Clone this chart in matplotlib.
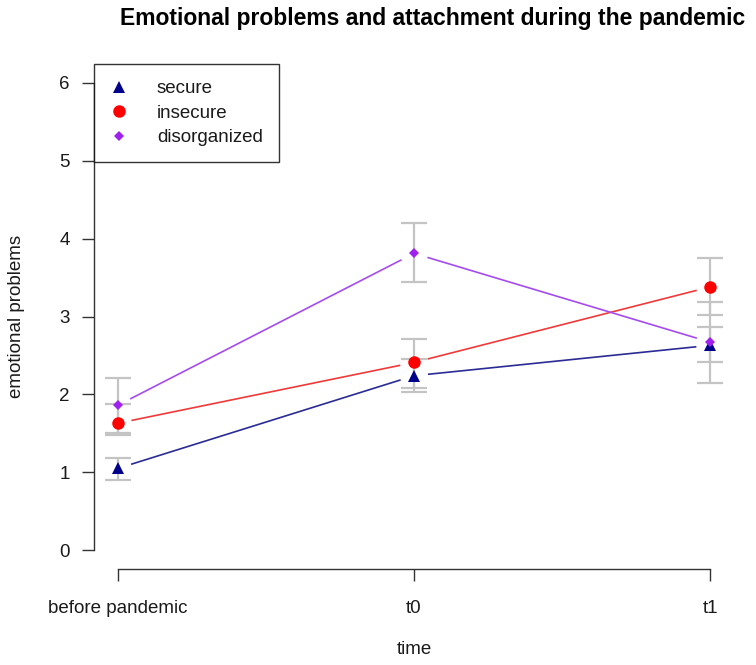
import numpy as np
import matplotlib
matplotlib.use("Agg")
import matplotlib.pyplot as plt
from matplotlib.lines import Line2D

plt.rcParams['font.family'] = ['Liberation Sans', 'DejaVu Sans']

# time points
time_labels = ["before pandemic", "t0", "t1"]
time_pos = [1, 2, 3]

# group means and interval ends
secure_mean = [1.05, 2.24, 2.63]
secure_low = [0.90, 2.03, 2.41]
secure_high = [1.18, 2.45, 2.86]

insecure_mean = [1.63, 2.41, 3.38]
insecure_low = [1.48, 2.08, 3.02]
insecure_high = [1.88, 2.71, 3.75]

disorg_mean = [1.86, 3.81, 2.67]
disorg_low = [1.51, 3.44, 2.15]
disorg_high = [2.21, 4.20, 3.18]

groups = ["secure", "insecure", "disorganized"]
W, H = 756, 665
FS = 13.5

fig = plt.figure(figsize=(W / 100, H / 100), dpi=100)
ax = fig.add_axes([94 / W, 1 - 569 / H, 640 / W, 505 / H])
ax.set_xlim(0.92, 3.08)
ax.set_ylim(-0.24, 6.24)

series = [
    (secure_mean, secure_low, secure_high, "^", 9, "#00008B", "#2B2B95"),
    (insecure_mean, insecure_low, insecure_high, "o", 9, "#FF0000", "#F03A3A"),
    (disorg_mean, disorg_low, disorg_high, "D", 5, "#A020F0", "#A64BF0"),
]

# error bars (under everything else)
for mean, low, high, *_ in series:
    mean = np.array(mean)
    err = [mean - np.array(low), np.array(high) - mean]
    ax.errorbar(time_pos, mean, yerr=err, fmt="none", ecolor="#C4C4C4",
                elinewidth=1.6, capsize=9.5, capthick=1.6, zorder=1)


def gap_lines(x, y, color, gap=14):
    # R type="b": segments stop short of the points
    pts = ax.transData.transform(np.column_stack([x, y]))
    for p0, p1 in zip(pts[:-1], pts[1:]):
        d = p1 - p0
        u = d / np.hypot(*d)
        a = ax.transData.inverted().transform([p0 + u * gap, p1 - u * gap])
        ax.plot(a[:, 0], a[:, 1], color=color, lw=1.2, zorder=2,
                solid_capstyle="butt")


for mean, low, high, mk, ms, mcol, lcol in series:
    gap_lines(time_pos, mean, lcol)
    ax.plot(time_pos, mean, linestyle="none", marker=mk, markersize=ms,
            color=mcol, markeredgewidth=0, zorder=3)

for s in ["top", "right"]:
    ax.spines[s].set_visible(False)
ax.spines["left"].set_bounds(0, 6)
ax.spines["bottom"].set_bounds(1, 3)
for s in ["left", "bottom"]:
    ax.spines[s].set_linewidth(1.0)
    ax.spines[s].set_color("#333333")

ax.set_yticks(range(0, 7))
ax.set_xticks(time_pos)
ax.set_xticklabels(time_labels)
ax.tick_params(axis="both", length=8.5, width=1.0, color="#333333",
               labelsize=FS, labelcolor="#1a1a1a")
ax.tick_params(axis="y", pad=9)
ax.tick_params(axis="x", pad=14)

ax.set_xlabel("time", fontsize=FS, color="#1a1a1a")
ax.xaxis.set_label_coords(0.5, -0.142)
ax.set_ylabel("emotional problems", fontsize=FS, color="#1a1a1a")
ax.yaxis.set_label_coords(-0.108, 0.5)

handles = [Line2D([], [], linestyle="none", marker=mk, markersize=ms,
                  color=mcol, markeredgewidth=0)
           for _, _, _, mk, ms, mcol, _ in series]
leg = ax.legend(handles, groups, loc="upper left", bbox_to_anchor=(0, 1.0),
                borderaxespad=0, fontsize=FS, frameon=True, fancybox=False,
                handlelength=1.0, handletextpad=1.5, labelspacing=0.4,
                borderpad=0.85)
leg.get_frame().set_edgecolor("black")
leg.get_frame().set_linewidth(1.0)
leg.get_frame().set_facecolor("white")
for t in leg.get_texts():
    t.set_color("#1a1a1a")

fig.text(433 / W, 1 - 19 / H,
         "Emotional problems and attachment during the pandemic",
         ha="center", va="center", fontsize=16.5, fontweight="bold")

fig.savefig("out.png", dpi=100)
